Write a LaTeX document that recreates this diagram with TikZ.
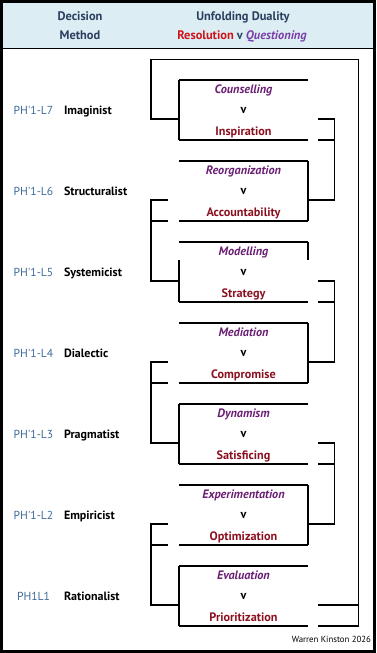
\documentclass[tikz,border=0pt]{standalone}
\usepackage{fontspec}
\setmainfont{PT Sans}
\definecolor{headblue}{HTML}{DCEDF3}
\definecolor{headtext}{HTML}{2B3F5F}
\definecolor{resolred}{HTML}{D0121B}
\definecolor{questlilac}{HTML}{7B3FA8}
\definecolor{questpurple}{HTML}{6B1F74}
\definecolor{boxred}{HTML}{8B1020}
\definecolor{codeblue}{HTML}{3E6A9A}

\begin{document}
\begin{tikzpicture}[x=1pt,y=-1pt,line width=1.1pt,
  every node/.style={inner sep=0pt,outer sep=0pt,font=\fontsize{12.2}{14}\selectfont},
  duo/.style={minimum width=129pt,minimum height=60pt},
  quest/.style={anchor=base,text=questpurple,font=\fontsize{12.2}{14}\selectfont\bfseries\itshape},
  resol/.style={anchor=base,text=boxred,font=\fontsize{12.2}{14}\selectfont\bfseries},
  vee/.style={anchor=base,font=\fontsize{12.2}{14}\selectfont\bfseries},
  code/.style={anchor=base,text=codeblue,font=\fontsize{11.6}{14}\selectfont},
  meth/.style={anchor=base west,font=\fontsize{12}{14}\selectfont\bfseries},
  head/.style={anchor=base,text=headtext,font=\fontsize{12.4}{14}\selectfont\bfseries}]
  \useasboundingbox (0,0) rectangle (376,653);
  % header band
  \fill[headblue] (0,0) rectangle (376,48.8);
  \draw[line width=1.2pt] (0,48.8) -- (376,48.8);
  \node[head] (dec) at (80,20.7) {Decision};
  \node[head] (meth) at (80,39.3) {Method};
  \node[head] (unf) at (243,20.7) {Unfolding Duality};
  \node[head] (rq) at (242,39.3) {\textcolor{resolred}{Resolution} v \textcolor{questlilac}{\itshape Questioning}};
  % boxes and rows
  \foreach \i/\top/\q/\r/\c/\m in {1/80/Counselling/Inspiration/PH\textquotesingle1-L7/Imaginist,
      2/161/Reorganization/Accountability/PH\textquotesingle1-L6/Structuralist,
      3/242/Modelling/Strategy/PH\textquotesingle1-L5/Systemicist,
      4/323/Mediation/Compromise/PH\textquotesingle1-L4/Dialectic,
      5/404/Dynamism/Satisficing/PH\textquotesingle1-L3/Pragmatist,
      6/485/Experimentation/Optimization/PH\textquotesingle1-L2/Empiricist,
      7/566/Evaluation/Prioritization/PH1L1/Rationalist}
  {
    \node[duo] (box\i) at (243.5,\top+30) {};
    \node[quest] (q\i) at (243.5,\top+13.3) {\q};
    \node[vee] (v\i) at (243.5,\top+33.3) {v};
    \node[resol] (r\i) at (243.5,\top+55.3) {\r};
    \node[code] (c\i) at (33.5,\top+34) {\c};
    \node[meth] (m\i) at (64,\top+34) {\m};
    \draw (box\i.north west) -- (box\i.north east);
    \draw (box\i.south west) -- (box\i.south east);
    \coordinate (lm\i) at ([yshift=-9pt]box\i.west);
    \coordinate (rm\i) at ([yshift=-9pt]box\i.east);
  }
  % box sides
  \foreach \i in {1,5,7} \draw (box\i.north west) -- (box\i.south west);
  \foreach \i in {2,4,6} \draw (box\i.north east) -- (box\i.south east);
  \draw ([yshift=-18pt]box3.north west) -- (box3.south west);
  \draw (box3.north east) -- ([yshift=-18pt]box3.north east);
  % right brackets
  \foreach \i/\j in {1/2,3/4,5/6} {
    \draw ([xshift=10pt]rm\i) -| ([xshift=26.3pt]rm\j) -- (rm\j);
    \draw ([xshift=10pt]box\i.south east) -- ([xshift=26.3pt]box\i.south east);
  }
  % left brackets
  \foreach \i/\j in {2/3,4/5,6/7} {
    \draw ([xshift=-11pt]lm\i) -- ([xshift=-28pt]lm\i) |- (lm\j);
    \draw ([xshift=-28pt]box\i.south west) -- ([xshift=-11pt]box\i.south west);
  }
  % outer loop
  \coordinate (loop) at (358.3,59.5);
  \draw (lm1) -- ([xshift=-28pt]lm1) |- (loop) |- ([xshift=10pt]box7.south east);
  \draw ([xshift=10pt]rm7) -- (loop |- rm7);
  % frame and credit
  \draw[line width=3pt] (1.5,1.5) rectangle (374.5,651.5);
  \node[anchor=base east,font=\fontsize{8.8}{10}\selectfont] (credit) at (371,642.7) {Warren Kinston 2026};
\end{tikzpicture}
\end{document}
